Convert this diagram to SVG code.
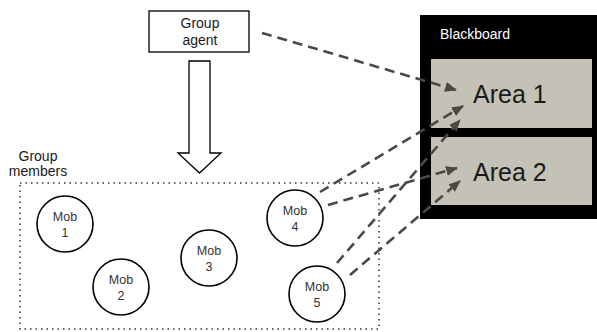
<svg xmlns="http://www.w3.org/2000/svg" width="597" height="332" viewBox="0 0 597 332">
<defs>
<marker id="ah" viewBox="0 0 12 10" refX="11" refY="5" markerWidth="12" markerHeight="10" markerUnits="userSpaceOnUse" orient="auto">
<path d="M0,0 L12,5 L0,10 Z" fill="#4a4a42"/>
</marker>
<style>
text{font-family:"Liberation Sans",Arial,sans-serif;fill:#1a1a1a}
.mob circle{fill:#fff;stroke:#000;stroke-width:1.6}
.mob text{font-size:12.5px;text-anchor:middle;fill:#333}
.dash{fill:none;stroke:#4a4a42;stroke-width:2.6;stroke-dasharray:10,6;marker-end:url(#ah)}
</style>
</defs>
<rect width="597" height="332" fill="#fff"/>
<g id="blackboard">
<rect x="420" y="15" width="177" height="204" fill="#000"/>
<text x="440" y="39" style="font-size:14px;fill:#fff">Blackboard</text>
</g>
<g id="area1">
<rect x="431" y="59" width="161" height="69" fill="#c4c2b6"/>
<text x="473" y="103" style="font-size:25px">Area 1</text>
</g>
<g id="area2">
<rect x="431" y="137" width="161" height="68" fill="#c4c2b6"/>
<text x="473" y="181" style="font-size:25px">Area 2</text>
</g>
<g id="group-agent">
<rect x="149" y="11" width="100" height="41" fill="#fff" stroke="#000" stroke-width="1.3"/>
<text x="200" y="28" style="font-size:14px;text-anchor:middle">Group</text>
<text x="200" y="45" style="font-size:14px;text-anchor:middle">agent</text>
</g>
<g id="hollow-arrow">
<path d="M189,61 L210,61 L210,153 L221,153 L199.5,173 L178,153 L189,153 Z" fill="#fff" stroke="#000" stroke-width="1.3"/>
</g>
<g id="group-members">
<rect x="20" y="183" width="359" height="146" fill="none" stroke="#333" stroke-width="1.5" stroke-dasharray="1.5,4"/>
<text x="38" y="161" style="font-size:14px;text-anchor:middle">Group</text>
<text x="38" y="176" style="font-size:14px;text-anchor:middle">members</text>
</g>
<g id="mob1" class="mob"><circle cx="65" cy="224" r="28"/><text x="65" y="221">Mob</text><text x="65" y="237">1</text></g>
<g id="mob2" class="mob"><circle cx="121" cy="287" r="28"/><text x="121" y="284">Mob</text><text x="121" y="300">2</text></g>
<g id="mob3" class="mob"><circle cx="209" cy="258" r="28"/><text x="209" y="255">Mob</text><text x="209" y="271">3</text></g>
<g id="mob4" class="mob"><circle cx="295" cy="218" r="28"/><text x="295" y="215">Mob</text><text x="295" y="231">4</text></g>
<g id="mob5" class="mob"><circle cx="317" cy="294" r="28"/><text x="317" y="291">Mob</text><text x="317" y="307">5</text></g>
<g id="connectors">
<line class="dash" x1="262" y1="33" x2="456" y2="90"/>
<line class="dash" x1="320" y1="192" x2="463" y2="106"/>
<line class="dash" x1="328" y1="205" x2="457" y2="168"/>
<line class="dash" x1="337" y1="263" x2="460" y2="120"/>
<line class="dash" x1="350" y1="275" x2="460" y2="181"/>
</g>
</svg>
